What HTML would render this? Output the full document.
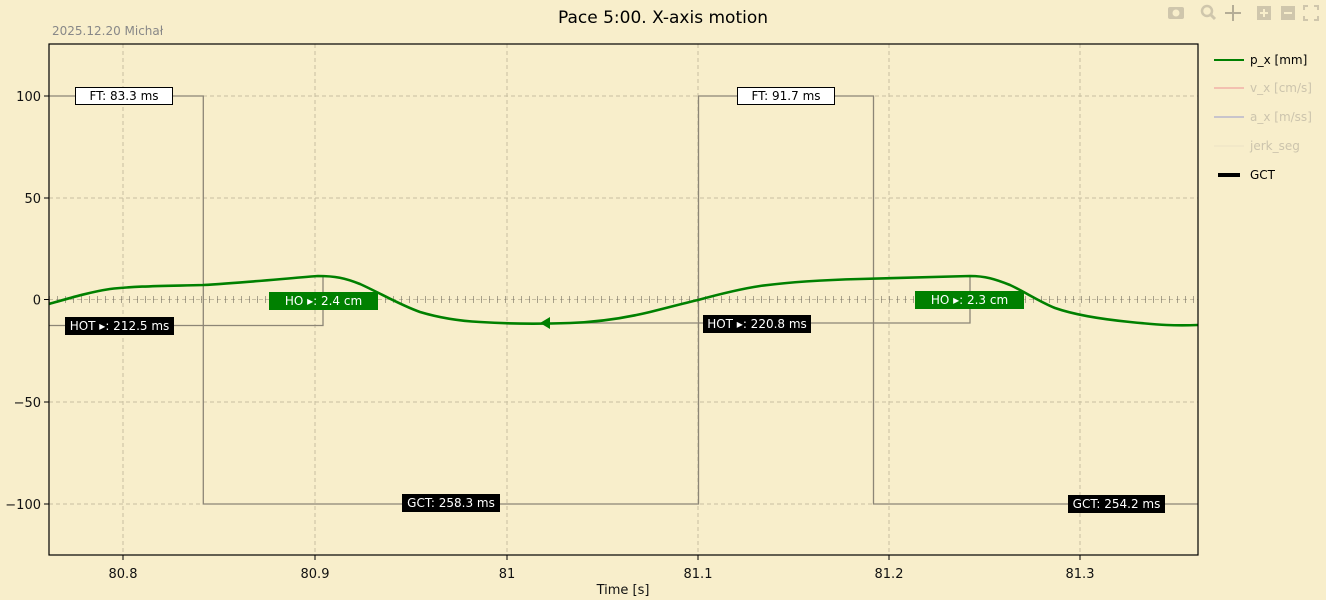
<!DOCTYPE html>
<html><head><meta charset="utf-8"><style>
html,body{margin:0;padding:0;background:#f8eecb;}
svg{display:block;font-family:"DejaVu Sans","Liberation Sans",sans-serif;}
</style></head><body>
<svg width="1326" height="600" viewBox="0 0 1326 600" xmlns="http://www.w3.org/2000/svg">
<rect width="1326" height="600" fill="#f8eecb"/>
<text x="663" y="23" font-size="17" text-anchor="middle" fill="#000">Pace 5:00. X-axis motion</text>
<text x="52" y="35" font-size="12" fill="#888">2025.12.20 Michał</text>
<!-- grid -->
<g stroke="#c8bfa0" stroke-width="1" stroke-dasharray="4,3">
<line x1="123" y1="44" x2="123" y2="555"/><line x1="315" y1="44" x2="315" y2="555"/>
<line x1="507" y1="44" x2="507" y2="555"/><line x1="698" y1="44" x2="698" y2="555"/>
<line x1="889" y1="44" x2="889" y2="555"/><line x1="1080" y1="44" x2="1080" y2="555"/>
<line x1="49" y1="96" x2="1198" y2="96"/><line x1="49" y1="198" x2="1198" y2="198"/>
<line x1="49" y1="299.5" x2="1198" y2="299.5"/><line x1="49" y1="402" x2="1198" y2="402"/>
<line x1="49" y1="504" x2="1198" y2="504"/>
</g>
<!-- zero tick line -->
<line x1="49" y1="299.5" x2="1198" y2="299.5" stroke="#999" stroke-width="1" stroke-dasharray="1,7" stroke-dashoffset="0" transform="translate(0,0)"/>
<path id="ticks" d="" />
<g stroke="#8a8270" stroke-width="1">
<line x1="49" y1="299.5" x2="1198" y2="299.5" stroke-dasharray="1,7" stroke-width="7" opacity="0.7"/>
</g>
<!-- square wave GCT -->
<g fill="none" stroke="#8c8576" stroke-width="1.3">
<polyline points="49,96 203.3,96 203.3,504 698.5,504 698.5,96 873.5,96 873.5,504 1198,504"/>
<polyline points="49,325.5 323,325.5 323,277"/>
<polyline points="542,323 970,323 970,276"/>
</g>
<!-- green curve -->
<path fill="none" stroke="#008000" stroke-width="2.6" d="M49,304 C70,298 90,292 110,289 C135,286 165,286 203,285 C240,283 280,279 318,276 C335,276 345,278 360,284 C380,293 400,305 420,312 C440,318 460,321 480,322 C510,324 540,324 570,323 C600,322 625,318 650,312 C670,307 685,303 698,300 C720,294 740,289 760,286 C790,282 820,280 860,279 C900,278 935,277 970,276 C985,276 995,279 1010,285 C1025,292 1040,302 1055,308 C1075,315 1100,319 1130,322 C1160,325 1175,326 1198,325"/>
<polygon points="540,323 550,317 550,329" fill="#008000"/>
<!-- axes -->
<rect x="49" y="44" width="1149" height="511" fill="none" stroke="#000" stroke-width="1.2"/>
<g stroke="#000" stroke-width="1">
<line x1="44" y1="96" x2="49" y2="96"/><line x1="44" y1="198" x2="49" y2="198"/><line x1="44" y1="299.5" x2="49" y2="299.5"/><line x1="44" y1="402" x2="49" y2="402"/><line x1="44" y1="504" x2="49" y2="504"/>
<line x1="123" y1="555" x2="123" y2="560"/><line x1="315" y1="555" x2="315" y2="560"/><line x1="507" y1="555" x2="507" y2="560"/><line x1="698" y1="555" x2="698" y2="560"/><line x1="889" y1="555" x2="889" y2="560"/><line x1="1080" y1="555" x2="1080" y2="560"/>
</g>
<g font-size="13" fill="#111" text-anchor="end">
<text x="41" y="101">100</text><text x="41" y="203">50</text><text x="41" y="304.5">0</text><text x="41" y="407">−50</text><text x="41" y="509">−100</text>
</g>
<g font-size="13" fill="#111" text-anchor="middle">
<text x="123" y="578">80.8</text><text x="315" y="578">80.9</text><text x="507" y="578">81</text><text x="698" y="578">81.1</text><text x="889" y="578">81.2</text><text x="1080" y="578">81.3</text>
<text x="623" y="594">Time [s]</text>
</g>
<!-- labels -->
<g font-size="12" text-anchor="middle">
<rect x="75.5" y="87.5" width="97" height="17" fill="#fff" stroke="#000"/><text x="124" y="100" fill="#000">FT: 83.3 ms</text>
<rect x="737.5" y="87.5" width="97" height="17" fill="#fff" stroke="#000"/><text x="786" y="100" fill="#000">FT: 91.7 ms</text>
<rect x="65" y="317" width="109" height="18" fill="#000"/><text x="119.5" y="330" fill="#fff">HOT ▸: 212.5 ms</text>
<rect x="703" y="315" width="108" height="18" fill="#000"/><text x="757" y="328" fill="#fff">HOT ▸: 220.8 ms</text>
<rect x="269" y="292" width="109" height="18" fill="#008000"/><text x="323.5" y="305" fill="#fff">HO ▸: 2.4 cm</text>
<rect x="915" y="291" width="109" height="18" fill="#008000"/><text x="969.5" y="304" fill="#fff">HO ▸: 2.3 cm</text>
<rect x="402" y="494" width="98" height="18" fill="#000"/><text x="451" y="507" fill="#fff">GCT: 258.3 ms</text>
<rect x="1068" y="495" width="97" height="18" fill="#000"/><text x="1116.5" y="508" fill="#fff">GCT: 254.2 ms</text>
</g>
<!-- legend -->
<g font-size="12">
<line x1="1214" y1="60" x2="1244" y2="60" stroke="#008000" stroke-width="2"/><text x="1250" y="64" fill="#000">p_x [mm]</text>
<line x1="1214" y1="88" x2="1244" y2="88" stroke="#f3c0b0" stroke-width="2"/><text x="1250" y="92" fill="#ccc4ad">v_x [cm/s]</text>
<line x1="1214" y1="117" x2="1244" y2="117" stroke="#c8c4cc" stroke-width="2"/><text x="1250" y="121" fill="#ccc4ad">a_x [m/ss]</text>
<line x1="1214" y1="146" x2="1244" y2="146" stroke="#ece3c4" stroke-width="1"/><text x="1250" y="150" fill="#ccc4ad">jerk_seg</text>
<line x1="1218" y1="175" x2="1240" y2="175" stroke="#000" stroke-width="4"/><text x="1250" y="179" fill="#000">GCT</text>
</g>
<!-- toolbar -->
<g fill="#cfc6ac">
<rect x="1168" y="7" width="16" height="12" rx="2"/><circle cx="1176" cy="13" r="3.5" fill="#f8eecb"/>
<circle cx="1207" cy="11" r="5" fill="none" stroke="#cfc6ac" stroke-width="2.5"/><line x1="1211" y1="15" x2="1215" y2="19" stroke="#cfc6ac" stroke-width="3"/>
<path d="M1233,5 L1233,21 M1225,13 L1241,13" stroke="#b5ad96" stroke-width="2"/>
<rect x="1257" y="6" width="14" height="14"/><rect x="1281" y="6" width="14" height="14"/>
<path d="M1304,10 v-4 h4 M1314,6 h4 v4 M1318,16 v4 h-4 M1308,20 h-4 v-4" fill="none" stroke="#cfc6ac" stroke-width="2"/>
</g>
<g stroke="#f8eecb" stroke-width="2"><line x1="1260" y1="13" x2="1268" y2="13"/><line x1="1264" y1="9" x2="1264" y2="17"/><line x1="1284" y1="13" x2="1292" y2="13"/></g>
</svg>
</body></html>
